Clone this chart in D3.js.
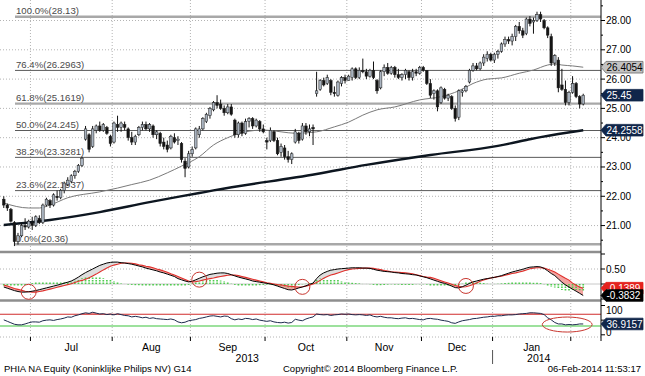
<!DOCTYPE html>
<html>
<head>
<meta charset="utf-8">
<script src="https://d3js.org/d3.v7.min.js"></script>
<title>PHIA NA Equity</title>
<style>
  body { margin: 0; background: #fff; }
  text { font-family: "Liberation Sans", Arial, sans-serif; }
</style>
</head>
<body>
<svg id="chart" width="645" height="376"></svg>
<script>
// x axis: trading days 19-Jun-2013 .. 06-Feb-2014
const months = ["Jul", "Aug", "Sep", "Oct", "Nov", "Dec", "Jan"];
const monthStart = [8, 31, 53, 74, 97, 118, 138, 160];
const years = ["2013", "2014"];
const yearStart = [0, 138, 164];

const priceTicks = [21, 22, 23, 24, 25, 26, 27, 28];
const fibPct = ["100.0%", "76.4%", "61.8%", "50.0%", "38.2%", "23.6%", "0.0%"];
const fibVal = [28.13, 26.2963, 25.1619, 24.245, 23.3281, 22.1937, 20.36];

const open = [
  21.90, 21.70, 21.55, 21.10, 20.45, 20.65, 21.00, 20.95,
  21.10, 21.00, 21.25, 21.10, 21.70, 21.85, 21.70, 22.00, 21.95, 22.20, 22.40, 22.50, 22.70, 22.85, 23.05, 23.95, 24.10, 23.70, 24.25, 24.40, 24.25, 24.35, 24.05,
  23.85, 24.45, 24.35, 24.45, 24.30, 24.00, 23.85, 24.10, 24.35, 24.45, 24.30, 24.40, 24.10, 24.15, 23.85, 23.75, 23.65, 24.00, 23.90, 23.80, 23.20, 23.00,
  23.45, 23.65, 24.10, 24.30, 24.55, 24.75, 24.95, 25.20, 25.15, 25.00, 24.85, 25.05, 24.60, 24.10, 24.50, 24.15, 24.55, 24.65, 24.40, 24.55, 24.30,
  23.90, 23.90, 24.20, 23.90, 23.50, 23.65, 23.35, 23.25, 23.85, 24.15, 23.95, 24.40, 24.20, 24.35, 25.50, 25.65, 25.95, 25.85, 25.95, 25.55, 25.45, 25.85, 26.05,
  25.95, 26.05, 26.35, 26.05, 26.30, 26.25, 26.10, 26.30, 25.95, 25.70, 26.25, 26.40, 26.20, 26.40, 26.15, 26.05, 26.15, 26.25, 26.05, 26.25, 26.20,
  26.40, 26.30, 25.85, 25.50, 25.60, 25.20, 25.65, 25.35, 25.40, 25.00, 24.70, 25.55, 25.60, 25.90, 26.30, 26.45, 26.35, 26.55, 26.70, 26.85,
  26.65, 26.85, 26.95, 27.20, 27.35, 27.30, 27.45, 27.80, 27.65, 27.55, 28.05, 27.95, 28.00, 28.20, 28.00, 27.75, 27.45, 26.55, 26.65, 25.80, 25.65, 25.20,
  25.55, 25.85, 25.40, 25.15
];
const high = [
  22.00, 21.75, 21.60, 21.15, 20.75, 21.10, 21.25, 21.20,
  21.30, 21.35, 21.35, 21.75, 21.95, 21.90, 22.10, 22.20, 22.25, 22.50, 22.65, 22.75, 22.90, 23.10, 23.35, 24.40, 24.15, 24.40, 24.45, 24.55, 24.50, 24.40, 24.10,
  24.55, 24.75, 24.55, 24.55, 24.35, 24.20, 24.10, 24.40, 24.55, 24.55, 24.50, 24.45, 24.25, 24.20, 24.00, 23.90, 24.10, 24.15, 24.05, 23.85, 23.30, 23.55,
  23.70, 24.35, 24.40, 24.70, 24.85, 25.05, 25.25, 25.45, 25.30, 25.10, 25.15, 25.15, 24.65, 24.55, 24.55, 24.65, 24.70, 24.70, 24.65, 24.60, 24.45,
  24.00, 24.35, 24.25, 24.00, 23.80, 23.75, 23.55, 23.50, 24.30, 24.20, 24.50, 24.50, 24.45, 24.45, 26.25, 26.00, 26.05, 26.15, 26.00, 25.75, 25.95, 26.10, 26.15,
  26.15, 26.40, 26.40, 26.40, 26.70, 26.35, 26.35, 26.60, 26.00, 26.30, 26.50, 26.55, 26.45, 26.45, 26.35, 26.20, 26.35, 26.30, 26.35, 26.35, 26.45,
  26.45, 26.30, 26.00, 25.65, 25.65, 25.75, 25.70, 25.50, 25.45, 25.10, 25.65, 25.65, 25.80, 26.35, 26.55, 26.55, 26.60, 26.85, 26.95, 26.90,
  26.90, 27.00, 27.25, 27.45, 27.45, 27.55, 27.85, 27.95, 27.75, 28.10, 28.15, 28.10, 28.30, 28.30, 28.05, 27.80, 27.55, 26.85, 26.75, 26.35, 25.95, 25.60,
  26.10, 25.90, 25.45, 25.50
];
const low = [
  21.60, 21.50, 21.10, 20.30, 20.35, 20.60, 20.85, 20.90,
  20.85, 20.95, 21.05, 21.05, 21.65, 21.60, 21.65, 21.85, 21.90, 22.10, 22.35, 22.45, 22.60, 22.80, 23.00, 23.90, 23.50, 23.65, 24.15, 24.20, 24.20, 24.10, 23.70,
  23.80, 24.20, 24.20, 24.25, 23.90, 23.75, 23.75, 24.05, 24.25, 24.25, 24.20, 24.00, 23.95, 23.70, 23.60, 23.50, 23.60, 23.80, 23.75, 23.15, 22.65, 22.95,
  23.35, 23.60, 24.00, 24.25, 24.50, 24.65, 24.90, 25.00, 24.95, 24.75, 24.80, 24.75, 24.00, 24.00, 24.05, 24.10, 24.35, 24.30, 24.35, 24.20, 24.15,
  23.60, 23.85, 23.85, 23.40, 23.35, 23.25, 23.15, 23.10, 23.80, 23.80, 23.90, 24.10, 24.05, 23.75, 25.40, 25.60, 25.75, 25.80, 25.45, 25.40, 25.40, 25.75, 25.85,
  25.95, 25.95, 26.00, 26.00, 26.20, 26.00, 26.05, 26.00, 25.50, 25.65, 26.10, 26.15, 26.15, 26.05, 26.00, 25.95, 26.00, 25.95, 25.95, 26.10, 26.15,
  26.25, 25.80, 25.35, 25.30, 24.90, 25.15, 25.30, 25.25, 24.95, 24.55, 24.60, 25.40, 25.55, 25.85, 26.25, 26.30, 26.30, 26.45, 26.60, 26.60,
  26.55, 26.70, 26.90, 27.10, 27.20, 27.15, 27.30, 27.55, 27.40, 27.50, 27.80, 27.55, 27.95, 27.95, 27.70, 27.40, 26.45, 26.45, 25.55, 25.60, 25.10, 25.10,
  25.50, 25.35, 25.00, 25.10
];
const close = [
  21.70, 21.60, 21.15, 20.45, 20.65, 21.00, 20.95, 21.15,
  21.00, 21.30, 21.10, 21.70, 21.90, 21.70, 22.05, 21.95, 22.20, 22.45, 22.55, 22.70, 22.85, 23.05, 23.30, 24.30, 23.60, 24.30, 24.40, 24.25, 24.45, 24.15, 23.80,
  24.50, 24.35, 24.50, 24.35, 24.00, 23.85, 24.05, 24.35, 24.45, 24.30, 24.45, 24.10, 24.20, 23.80, 23.70, 23.60, 24.05, 23.85, 23.95, 23.25, 22.95, 23.45,
  23.60, 24.30, 24.30, 24.65, 24.80, 25.00, 25.20, 25.10, 25.00, 24.85, 25.05, 24.80, 24.10, 24.50, 24.15, 24.55, 24.65, 24.40, 24.60, 24.30, 24.20,
  23.85, 24.25, 23.90, 23.45, 23.70, 23.35, 23.25, 23.45, 24.20, 23.90, 24.40, 24.20, 24.30, 24.30, 25.60, 25.95, 25.80, 26.05, 25.55, 25.50, 25.90, 26.05, 25.95,
  26.10, 26.35, 26.05, 26.30, 26.25, 26.10, 26.30, 26.05, 25.60, 26.25, 26.40, 26.20, 26.40, 26.15, 26.05, 26.15, 26.30, 26.05, 26.25, 26.20, 26.40,
  26.30, 25.85, 25.45, 25.60, 25.05, 25.70, 25.35, 25.45, 25.00, 24.65, 25.60, 25.60, 25.75, 26.30, 26.45, 26.35, 26.55, 26.75, 26.85, 26.65,
  26.85, 26.95, 27.20, 27.35, 27.30, 27.45, 27.80, 27.65, 27.50, 28.05, 27.90, 28.00, 28.20, 28.05, 27.75, 27.50, 26.55, 26.80, 25.70, 25.65, 25.20, 25.55,
  25.85, 25.40, 25.15, 25.45
];

// moving averages read at a few days
const ma50Idx = [0, 7, 10, 13, 18, 27, 32, 36, 41, 46, 50, 55, 59, 63, 68, 73, 78, 82, 88, 93, 97, 101, 105, 110, 117, 123, 128, 132, 136, 140, 145, 149, 153, 155, 157, 160, 163];
const ma50Val = [21.77, 21.6, 21.6, 21.7, 21.95, 22.15, 22.28, 22.4, 22.55, 22.8, 23.03, 23.35, 23.75, 24.0, 24.2, 24.26, 24.2, 24.15, 24.2, 24.37, 24.53, 24.77, 24.95, 25.05, 25.29, 25.4, 25.6, 25.85, 26.0, 26.04, 26.2, 26.31, 26.48, 26.52, 26.48, 26.45, 26.4054];
const ma200Idx = [0, 13, 27, 41, 55, 59, 88, 102, 120, 139, 147, 151, 163];
const ma200Val = [21.02, 21.19, 21.46, 21.8, 22.11, 22.2, 22.76, 23.07, 23.41, 23.72, 23.92, 24.02, 24.2558];

const macd = [
  -0.10, -0.14, -0.18, -0.22, -0.25, -0.27, -0.27, -0.26, -0.24, -0.22,
  -0.19, -0.16, -0.13, -0.10, -0.07, -0.04, -0.01, 0.03, 0.06, 0.10,
  0.16, 0.23, 0.31, 0.38, 0.44, 0.50, 0.56, 0.62, 0.66, 0.70,
  0.72, 0.73, 0.73, 0.71, 0.70, 0.68, 0.66, 0.63, 0.60, 0.57,
  0.53, 0.50, 0.47, 0.44, 0.40, 0.37, 0.33, 0.29, 0.25, 0.18,
  0.14, 0.10, 0.07, 0.09, 0.14, 0.19, 0.24, 0.28, 0.32, 0.34,
  0.36, 0.37, 0.37, 0.35, 0.31, 0.27, 0.23, 0.20, 0.17, 0.14,
  0.10, 0.08, 0.06, 0.04, 0.02, 0.00, -0.03, -0.07, -0.11, -0.15,
  -0.19, -0.20, -0.17, -0.13, -0.10, -0.06, -0.01, 0.03, 0.18, 0.30,
  0.37, 0.42, 0.46, 0.48, 0.50, 0.51, 0.52, 0.53, 0.54, 0.54,
  0.54, 0.53, 0.53, 0.52, 0.49, 0.46, 0.44, 0.42, 0.41, 0.40,
  0.38, 0.37, 0.35, 0.34, 0.33, 0.31, 0.30, 0.27, 0.24, 0.21,
  0.17, 0.13, 0.09, 0.05, 0.02, -0.02, -0.07, -0.12, -0.13, -0.09,
  -0.04, 0.02, 0.07, 0.10, 0.13, 0.16, 0.18, 0.20, 0.22, 0.25,
  0.28, 0.32, 0.36, 0.40, 0.43, 0.46, 0.49, 0.53, 0.56, 0.57,
  0.58, 0.57, 0.52, 0.44, 0.35, 0.28, 0.17, 0.06, -0.03, -0.10,
  -0.17, -0.24, -0.31, -0.3832
];
const signal = [
  -0.03, -0.07, -0.11, -0.15, -0.18, -0.21, -0.24, -0.26, -0.27, -0.27,
  -0.25, -0.23, -0.20, -0.17, -0.14, -0.11, -0.08, -0.05, -0.02, 0.01,
  0.05, 0.09, 0.12, 0.16, 0.21, 0.27, 0.33, 0.40, 0.47, 0.53,
  0.59, 0.63, 0.66, 0.69, 0.70, 0.70, 0.69, 0.67, 0.64, 0.62,
  0.59, 0.57, 0.54, 0.50, 0.47, 0.43, 0.39, 0.34, 0.30, 0.25,
  0.20, 0.15, 0.10, 0.07, 0.08, 0.10, 0.13, 0.16, 0.18, 0.20,
  0.23, 0.25, 0.27, 0.29, 0.30, 0.30, 0.28, 0.25, 0.22, 0.19,
  0.16, 0.13, 0.10, 0.07, 0.04, 0.02, 0.00, -0.02, -0.03, -0.05,
  -0.07, -0.08, -0.09, -0.10, -0.09, -0.07, -0.04, 0.00, 0.05, 0.12,
  0.19, 0.25, 0.30, 0.33, 0.37, 0.41, 0.45, 0.48, 0.50, 0.51,
  0.52, 0.53, 0.53, 0.53, 0.52, 0.50, 0.48, 0.45, 0.43, 0.41,
  0.40, 0.39, 0.38, 0.37, 0.36, 0.34, 0.31, 0.28, 0.25, 0.23,
  0.22, 0.19, 0.15, 0.11, 0.07, 0.03, -0.01, -0.05, -0.08, -0.10,
  -0.09, -0.06, -0.02, 0.03, 0.09, 0.13, 0.17, 0.20, 0.22, 0.24,
  0.26, 0.29, 0.32, 0.35, 0.37, 0.40, 0.43, 0.47, 0.51, 0.53,
  0.54, 0.54, 0.53, 0.49, 0.45, 0.40, 0.33, 0.26, 0.19, 0.13,
  0.03, -0.04, -0.10, -0.1389
];
const rsi = [
  51, 46, 41, 36, 34, 34, 37, 41, 44, 44,
  43, 48, 50, 51, 49, 52, 54, 57, 61, 60,
  65, 68, 72, 75, 73, 77, 74, 71, 72, 69,
  71, 68, 72, 69, 66, 65, 61, 63, 61, 58,
  60, 56, 58, 55, 54, 53, 52, 54, 51, 44,
  41, 43, 48, 50, 52, 56, 58, 61, 64, 65,
  63, 61, 64, 63, 55, 51, 54, 52, 56, 55,
  52, 54, 50, 48, 46, 48, 44, 42, 41, 43,
  40, 42, 53, 50, 48, 54, 58, 61, 71, 69,
  68, 69, 66, 68, 69, 71, 70, 71, 69, 68,
  69, 68, 66, 68, 63, 61, 63, 60, 58, 58,
  56, 55, 57, 58, 55, 56, 54, 52, 51, 55,
  56, 54, 53, 50, 48, 46, 41, 39, 44, 48,
  50, 52, 55, 56, 58, 60, 61, 63, 63, 65,
  65, 67, 68, 68, 69, 71, 72, 73, 75, 75,
  74, 73, 69, 58, 51, 42, 37, 37, 34, 35,
  34, 35, 37, 36.9157
];
const rsiLevels = [70, 30];
const crossIdx = [7, 55, 84, 130];
const rsiMark = { from: 151.5, to: 165.5, level: 35 };

const svg = d3.select("svg#chart");
const axisX = 601;
const n = close.length;

const x = d3.scaleBand().domain(d3.range(n)).range([2, 585]);
const cx = i => x(i) + x.bandwidth() / 2;
const cxf = v => x.range()[0] + x.step() * (v + 0.5);
const yP = d3.scaleLinear().domain([20.2, 28.7]).range([249, 0]);
const yM = d3.scaleLinear().domain([-0.5, 1.0]).range([299, 254]);
const yR = d3.scaleLinear().domain([0, 100]).range([334.8, 305.5]);

// grid
const grid = svg.append("g").attr("stroke", "#b4b4b4").attr("stroke-dasharray", "1,2");
grid.selectAll("line.h").data(priceTicks).join("line")
    .attr("x1", 0).attr("x2", axisX)
    .attr("y1", d => yP(d)).attr("y2", d => yP(d));
grid.selectAll("line.v").data(monthStart).join("line")
    .attr("x1", d => x(d)).attr("x2", d => x(d))
    .attr("y1", 0).attr("y2", 337);
grid.append("line").attr("x1", 0).attr("x2", axisX).attr("y1", yM(0.5)).attr("y2", yM(0.5));
grid.append("line").attr("x1", 0).attr("x2", axisX).attr("y1", 337).attr("y2", 337);

// fibonacci retracement
const heavy = new Set(["100.0%", "61.8%", "0.0%"]);
const fib = svg.append("g");
fibVal.forEach((v, k) => {
    fib.append("line")
       .attr("x1", 15).attr("x2", axisX)
       .attr("y1", yP(v)).attr("y2", yP(v))
       .attr("stroke", heavy.has(fibPct[k]) ? "#a8a8a8" : "#5a5a5a")
       .attr("stroke-width", heavy.has(fibPct[k]) ? 2.4 : 1);
    fib.append("text")
       .attr("x", 16).attr("y", yP(v) - 2.5)
       .attr("font-size", "9.6px").attr("fill", "#4a4a4a")
       .text(`${fibPct[k]}(${v})`);
});

// moving averages
const maLine = d3.line().x(d => cx(d[0])).y(d => yP(d[1])).curve(d3.curveMonotoneX);
svg.append("path").datum(d3.zip(ma50Idx, ma50Val))
   .attr("d", maLine).attr("fill", "none").attr("stroke", "#7a7a7a").attr("stroke-width", 1);
svg.append("path").datum(d3.zip(ma200Idx, ma200Val))
   .attr("d", maLine).attr("fill", "none").attr("stroke", "#0d1620").attr("stroke-width", 2.4);

// candles
const candles = svg.append("g");
d3.range(n).forEach(i => {
    const up = close[i] >= open[i];
    candles.append("line")
           .attr("x1", cx(i)).attr("x2", cx(i))
           .attr("y1", yP(high[i])).attr("y2", yP(low[i]))
           .attr("stroke", "#111").attr("stroke-width", 1);
    const top = yP(Math.max(open[i], close[i]));
    const h = Math.max(1, Math.abs(yP(open[i]) - yP(close[i])));
    candles.append("rect")
           .attr("x", cx(i) - 1.3).attr("width", 2.6)
           .attr("y", top).attr("height", h)
           .attr("fill", up ? "#a9b3bf" : "#151515")
           .attr("stroke", "#1a1a1a").attr("stroke-width", 0.5);
});

// panel separators
[252, 300.5].forEach(yy => {
    svg.append("line").attr("x1", 0).attr("x2", axisX).attr("y1", yy).attr("y2", yy)
       .attr("stroke", "#8e8e8e").attr("stroke-width", 2.4);
});

// MACD panel
const days = d3.range(n);
svg.append("line").attr("x1", 0).attr("x2", axisX).attr("y1", yM(0)).attr("y2", yM(0))
   .attr("stroke", "#c8c8c8");
const defs = svg.append("defs");
defs.append("clipPath").attr("id", "aboveMacd").append("path")
    .attr("d", d3.area().x(cx).y0(254).y1(i => yM(macd[i]))(days));
defs.append("clipPath").attr("id", "belowMacd").append("path")
    .attr("d", d3.area().x(cx).y0(299).y1(i => yM(macd[i]))(days));
const between = d3.area().x(cx).y0(i => yM(signal[i])).y1(i => yM(macd[i]));
svg.append("path").attr("d", between(days)).attr("fill", "#f3a3a0")
   .attr("clip-path", "url(#aboveMacd)");
svg.append("path").attr("d", between(days)).attr("fill", "#dedede")
   .attr("clip-path", "url(#belowMacd)");
svg.append("g").selectAll("line").data(days).join("line")
   .attr("x1", cx).attr("x2", cx)
   .attr("y1", yM(0)).attr("y2", i => yM(macd[i] - signal[i]))
   .attr("stroke", "#4fcc4f").attr("stroke-width", 1.7).attr("stroke-dasharray", "1.5,1");
svg.append("path").datum(days)
   .attr("d", d3.line().x(cx).y(i => yM(signal[i])))
   .attr("fill", "none").attr("stroke", "#e0302c").attr("stroke-width", 1.1);
svg.append("path").datum(days)
   .attr("d", d3.line().x(cx).y(i => yM(macd[i])))
   .attr("fill", "none").attr("stroke", "#000").attr("stroke-width", 1);
svg.append("g").selectAll("circle").data(crossIdx).join("circle")
   .attr("cx", cx).attr("cy", i => yM((macd[i] + signal[i]) / 2))
   .attr("r", 7.5).attr("fill", "none").attr("stroke", "#c8372f").attr("stroke-width", 1);

// RSI panel
svg.append("path").datum(days)
   .attr("d", d3.area().x(cx).y0(yR(rsiLevels[0])).y1(i => yR(Math.max(rsi[i], rsiLevels[0]))))
   .attr("fill", "#f2a09c");
svg.append("line").attr("x1", 0).attr("x2", axisX)
   .attr("y1", yR(rsiLevels[0])).attr("y2", yR(rsiLevels[0]))
   .attr("stroke", "#d02c2c").attr("stroke-width", 1.1);
svg.append("line").attr("x1", 0).attr("x2", axisX)
   .attr("y1", yR(rsiLevels[1])).attr("y2", yR(rsiLevels[1]))
   .attr("stroke", "#3cc43c").attr("stroke-width", 1.1);
svg.append("path").datum(days)
   .attr("d", d3.line().x(cx).y(i => yR(rsi[i])))
   .attr("fill", "none").attr("stroke", "#1d2a4d").attr("stroke-width", 1);
svg.append("ellipse")
   .attr("cx", (cxf(rsiMark.from) + cxf(rsiMark.to)) / 2).attr("cy", yR(rsiMark.level))
   .attr("rx", (cxf(rsiMark.to) - cxf(rsiMark.from)) / 2).attr("ry", 7.5)
   .attr("fill", "none").attr("stroke", "#c8372f").attr("stroke-width", 1);

// right axis
svg.append("line").attr("x1", axisX).attr("x2", axisX).attr("y1", 0).attr("y2", 341)
   .attr("stroke", "#000");
const rAxis = svg.append("g");
d3.range(41, 58).map(k => k / 2).forEach(v => {
    const major = Number.isInteger(v);
    rAxis.append("line").attr("x1", axisX).attr("x2", axisX + (major ? 4 : 2))
         .attr("y1", yP(v)).attr("y2", yP(v)).attr("stroke", "#000");
});
rAxis.selectAll("text.p").data(priceTicks).join("text")
     .attr("x", axisX + 5).attr("y", d => yP(d) + 3.5)
     .attr("font-size", "10px").text(d => d.toFixed(2));
[-0.5, 0, 0.5, 1.0].forEach(v => {
    rAxis.append("line").attr("x1", axisX).attr("x2", axisX + 4)
         .attr("y1", yM(v)).attr("y2", yM(v)).attr("stroke", "#000");
});
rAxis.append("text").attr("x", axisX + 5).attr("y", yM(0.5) + 3.5)
     .attr("font-size", "10px").text("0.50");
[0, 50, 100].forEach(v => {
    rAxis.append("line").attr("x1", axisX).attr("x2", axisX + 4)
         .attr("y1", yR(v)).attr("y2", yR(v)).attr("stroke", "#000");
});
rAxis.append("text").attr("x", axisX + 5).attr("y", yR(100) + 8)
     .attr("font-size", "10px").text("100");
rAxis.append("text").attr("x", axisX + 5).attr("y", yR(0) + 1)
     .attr("font-size", "10px").text("0");

// last value tags
function tag(yy, label, fill, color) {
    const g = svg.append("g");
    g.append("path")
     .attr("d", `M${axisX},${yy} L${axisX + 5},${yy - 5.8} L643,${yy - 5.8} L643,${yy + 5.8} L${axisX + 5},${yy + 5.8} Z`)
     .attr("fill", fill).attr("stroke", fill === "#c2c2c2" ? "#6a6a6a" : fill).attr("stroke-width", 0.8);
    g.append("text").attr("x", axisX + 5.5).attr("y", yy + 3.6)
     .attr("font-size", "10px").attr("fill", color).text(label);
}
tag(yP(ma50Val[ma50Val.length - 1]), ma50Val[ma50Val.length - 1].toFixed(4), "#c2c2c2", "#000");
tag(yP(close[n - 1]), close[n - 1].toFixed(2), "#10264a", "#fff");
tag(yP(ma200Val[ma200Val.length - 1]), ma200Val[ma200Val.length - 1].toFixed(4), "#10264a", "#fff");
tag(yM(signal[n - 1]), signal[n - 1].toFixed(4), "#e4231e", "#fff");
tag(yM(macd[n - 1]), macd[n - 1].toFixed(4), "#000", "#fff");
tag(yR(rsi[n - 1]), rsi[n - 1].toFixed(4), "#10264a", "#fff");

// bottom axis
const bAxis = svg.append("g");
monthStart.forEach(d => {
    bAxis.append("line").attr("x1", x(d)).attr("x2", x(d)).attr("y1", 337).attr("y2", 341)
         .attr("stroke", "#000");
});
months.forEach((m, k) => {
    bAxis.append("text")
         .attr("x", (x(monthStart[k]) + x(monthStart[k + 1])) / 2).attr("y", 351)
         .attr("text-anchor", "middle").attr("font-size", "10.5px").text(m);
});
years.forEach((yr, k) => {
    const x0 = x(yearStart[k]);
    const x1 = yearStart[k + 1] < n ? x(yearStart[k + 1]) : x.range()[1];
    bAxis.append("text").attr("x", (x0 + x1) / 2).attr("y", 362)
         .attr("text-anchor", "middle").attr("font-size", "10.5px").text(yr);
});
bAxis.append("line").attr("x1", x(yearStart[1])).attr("x2", x(yearStart[1]))
     .attr("y1", 350).attr("y2", 364).attr("stroke", "#555");

// footer
svg.append("text").attr("x", 4).attr("y", 372).attr("font-size", "9.5px")
   .text("PHIA NA Equity (Koninklijke Philips NV) G14");
svg.append("text").attr("x", 283).attr("y", 372).attr("font-size", "9.5px")
   .text("Copyright\u00a9 2014 Bloomberg Finance L.P.");
svg.append("text").attr("x", 641).attr("y", 372).attr("text-anchor", "end").attr("font-size", "9.5px")
   .text("06-Feb-2014 11:53:17");
</script>
</body>
</html>
